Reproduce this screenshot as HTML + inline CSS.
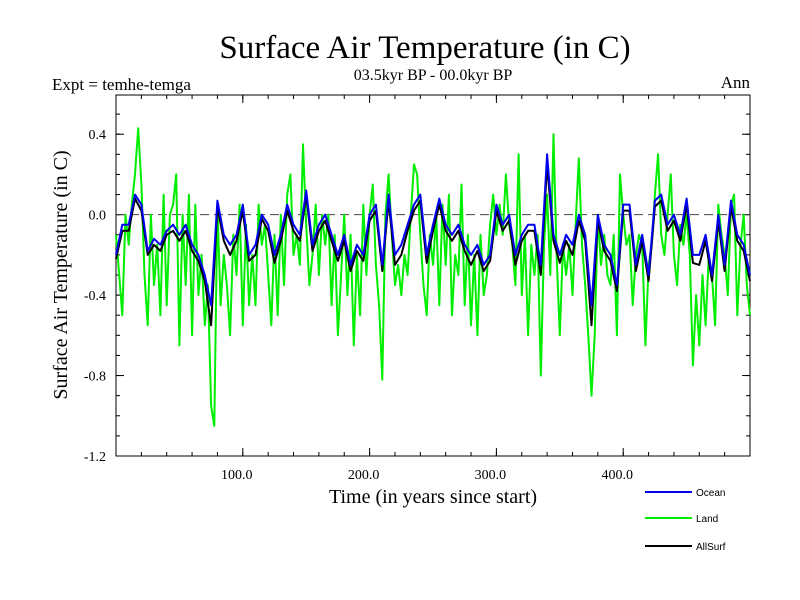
<!DOCTYPE html>
<html><head><meta charset="utf-8"><style>
body{margin:0;background:#fff;width:800px;height:600px;overflow:hidden}
svg{display:block}
</style></head><body>
<svg id="chart" width="800" height="600" xmlns="http://www.w3.org/2000/svg">
<text x="425" y="58" font-family="Liberation Serif, serif" font-size="33" text-anchor="middle">Surface Air Temperature (in C)</text>
<text x="433" y="80" font-family="Liberation Serif, serif" font-size="16" text-anchor="middle">03.5kyr BP - 00.0kyr BP</text>
<text x="52" y="90" font-family="Liberation Serif, serif" font-size="17">Expt = temhe-temga</text>
<text x="750" y="88" font-family="Liberation Serif, serif" font-size="17" text-anchor="end">Ann</text>
<text transform="translate(67,275) rotate(-90)" font-family="Liberation Serif, serif" font-size="20" text-anchor="middle">Surface Air Temperature (in C)</text>
<text x="433" y="503" font-family="Liberation Serif, serif" font-size="20" text-anchor="middle">Time (in years since start)</text>
<g id="plot"></g>
<g id="legend"></g>
</svg>
<script>
const yTicks=[0.4,0.0,-0.4,-0.8,-1.2];
const yTickLabels=["0.4","0.0","-0.4","-0.8","-1.2"];
const xTicks=[100,200,300,400];
const xTickLabels=["100.0","200.0","300.0","400.0"];
const oceanStep=5;
const ocean=[-0.2,-0.05,-0.05,0.1,0.05,-0.18,-0.12,-0.15,-0.08,-0.05,-0.1,-0.05,-0.15,-0.2,-0.3,-0.45,0.07,-0.1,-0.15,-0.1,0.05,-0.2,-0.15,0.0,-0.05,-0.2,-0.1,0.05,-0.05,-0.1,0.12,-0.15,-0.05,0.0,-0.1,-0.2,-0.1,-0.25,-0.15,-0.2,0.0,0.05,-0.25,0.1,-0.2,-0.15,-0.05,0.05,0.1,-0.2,-0.05,0.08,-0.05,-0.1,-0.05,-0.15,-0.2,-0.15,-0.25,-0.2,0.05,-0.05,0.0,-0.2,-0.1,-0.05,-0.05,-0.25,0.3,-0.1,-0.2,-0.1,-0.15,0.0,-0.1,-0.45,0.0,-0.15,-0.2,-0.35,0.05,0.05,-0.25,-0.1,-0.3,0.07,0.1,-0.05,0.0,-0.1,0.08,-0.2,-0.2,-0.1,-0.3,0.0,-0.25,0.07,-0.1,-0.15,-0.3];
const landStep=2.5;
const land=[-0.1,-0.3,-0.5,0.0,-0.15,0.05,0.2,0.43,0.15,-0.3,-0.55,0.0,-0.35,-0.15,-0.5,0.1,-0.45,0.0,0.05,0.2,-0.65,0.0,-0.35,0.1,-0.6,0.05,-0.4,-0.2,-0.55,-0.35,-0.95,-1.05,0.05,-0.45,-0.2,-0.35,-0.6,-0.1,-0.3,0.05,-0.55,-0.05,-0.45,-0.2,-0.45,0.05,-0.15,-0.05,-0.3,-0.55,-0.1,-0.5,0.0,-0.35,0.1,0.2,-0.2,-0.1,-0.25,0.35,-0.05,-0.35,-0.2,0.05,-0.3,0.0,-0.15,0.0,-0.45,-0.1,-0.6,-0.3,0.0,-0.4,-0.1,-0.65,-0.2,-0.5,0.05,-0.3,0.0,0.15,-0.25,-0.45,-0.82,0.0,0.2,-0.1,-0.35,-0.25,-0.4,-0.2,-0.3,0.0,0.25,0.2,-0.1,-0.35,-0.5,-0.1,-0.25,0.0,-0.45,0.05,-0.25,0.1,-0.5,-0.2,-0.3,0.15,-0.45,-0.1,-0.55,-0.2,-0.6,-0.1,-0.4,-0.3,-0.05,0.1,-0.1,0.05,-0.1,0.2,-0.05,-0.15,-0.35,0.3,-0.4,-0.1,-0.6,-0.15,-0.3,-0.1,-0.8,-0.15,0.1,-0.3,0.4,-0.2,-0.6,-0.15,-0.3,-0.15,-0.4,-0.05,0.28,-0.15,-0.35,-0.6,-0.9,-0.6,0.0,-0.25,-0.1,-0.3,-0.35,-0.1,-0.6,0.2,0.0,-0.15,-0.1,-0.45,-0.2,-0.1,-0.15,-0.65,-0.25,-0.15,0.1,0.3,-0.1,-0.2,0.0,0.2,-0.2,-0.35,-0.05,-0.15,0.0,-0.2,-0.75,-0.4,-0.65,-0.3,-0.55,-0.2,-0.3,-0.55,0.05,-0.1,-0.2,-0.4,0.05,0.1,-0.5,-0.15,0.0,-0.35,-0.5];
const allStep=5;
const allSurf=[-0.22,-0.08,-0.08,0.08,0.02,-0.2,-0.15,-0.18,-0.1,-0.08,-0.13,-0.08,-0.18,-0.23,-0.33,-0.55,0.04,-0.13,-0.2,-0.13,0.02,-0.23,-0.2,-0.02,-0.08,-0.24,-0.13,0.02,-0.08,-0.13,0.1,-0.18,-0.08,-0.03,-0.13,-0.23,-0.13,-0.28,-0.18,-0.23,-0.03,0.02,-0.28,0.07,-0.25,-0.2,-0.08,0.02,0.07,-0.24,-0.08,0.05,-0.08,-0.13,-0.08,-0.18,-0.25,-0.18,-0.28,-0.23,0.02,-0.08,-0.03,-0.25,-0.13,-0.08,-0.08,-0.3,0.25,-0.13,-0.24,-0.13,-0.2,-0.03,-0.13,-0.55,-0.03,-0.18,-0.23,-0.38,0.02,0.02,-0.28,-0.13,-0.33,0.04,0.07,-0.08,-0.03,-0.13,0.05,-0.24,-0.25,-0.13,-0.33,-0.03,-0.28,0.04,-0.13,-0.18,-0.33];

const L=116,R=750,T=95,B=456,xMin=0,xMax=500,yMin=-1.2,yMax=0.595;
const sx=v=>L+(v-xMin)/(xMax-xMin)*(R-L);
const sy=v=>B-(v-yMin)/(yMax-yMin)*(B-T);
const NS="http://www.w3.org/2000/svg";
const plot=document.getElementById('plot');
function mk(tag,attrs,parent){const e=document.createElementNS(NS,tag);for(const k in attrs)e.setAttribute(k,attrs[k]);parent.appendChild(e);return e;}

const frame=mk('rect',{x:L,y:T,width:R-L,height:B-T,fill:'none',stroke:'#000','stroke-width':1},plot);



for(let v=-1.2;v<=0.55;v+=0.1){const y=sy(v);
 const t1=mk('line',{x1:L,x2:L+4,y1:y,y2:y,stroke:'#000'},plot);
 const t2=mk('line',{x1:R,x2:R-4,y1:y,y2:y,stroke:'#000'},plot);}
for(let v=20;v<500;v+=20){const x=sx(v);
 const t1=mk('line',{x1:x,x2:x,y1:B,y2:B-4,stroke:'#000'},plot);
 const t2=mk('line',{x1:x,x2:x,y1:T,y2:T+4,stroke:'#000'},plot);}
yTicks.forEach((v,i)=>{const y=sy(v);
 const t=mk('line',{x1:L,x2:L+8,y1:y,y2:y,stroke:'#000'},plot);
 const t2=mk('line',{x1:R,x2:R-8,y1:y,y2:y,stroke:'#000'},plot);
 const lb=mk('text',{x:L-10,y:y+5,'font-family':'Liberation Serif, serif','font-size':14,'text-anchor':'end'},plot);lb.textContent=yTickLabels[i];
 });
xTicks.forEach((v,i)=>{const x=sx(v);
 const t=mk('line',{x1:x,x2:x,y1:B,y2:B-8,stroke:'#000'},plot);
 const t2=mk('line',{x1:x,x2:x,y1:T,y2:T+8,stroke:'#000'},plot);
 const lb=mk('text',{x:x-6,y:B+23,'font-family':'Liberation Serif, serif','font-size':14,'text-anchor':'middle'},plot);lb.textContent=xTickLabels[i];
 });

const zl=mk('line',{x1:L,x2:R,y1:sy(0),y2:sy(0),stroke:'#444','stroke-dasharray':'9,5'},plot);



function series(arr,step,color,name){const d=arr.map((v,i)=>(i?'L':'M')+sx(i*step).toFixed(1)+','+sy(v).toFixed(1)).join('');
 const p=mk('path',{d:d,fill:'none',stroke:color,'stroke-width':2,'stroke-linejoin':'round'},plot);
 
 }
series(land,landStep,'#00ee00','land-series');
series(allSurf,allStep,'#000','allsurf-series');
series(ocean,oceanStep,'#0000ee','ocean-series');

const leg=document.getElementById('legend');
[['Ocean','#0000ee',492],['Land','#00ee00',518],['AllSurf','#000',546]].forEach(([n,c,y])=>{
 const l=mk('line',{x1:645,x2:692,y1:y,y2:y,stroke:c,'stroke-width':2},leg);
 
 
 const t=mk('text',{x:696,y:y+4,'font-family':'Liberation Sans, sans-serif','font-size':10},leg);t.textContent=n;
 
 });
</script>
</body></html>
